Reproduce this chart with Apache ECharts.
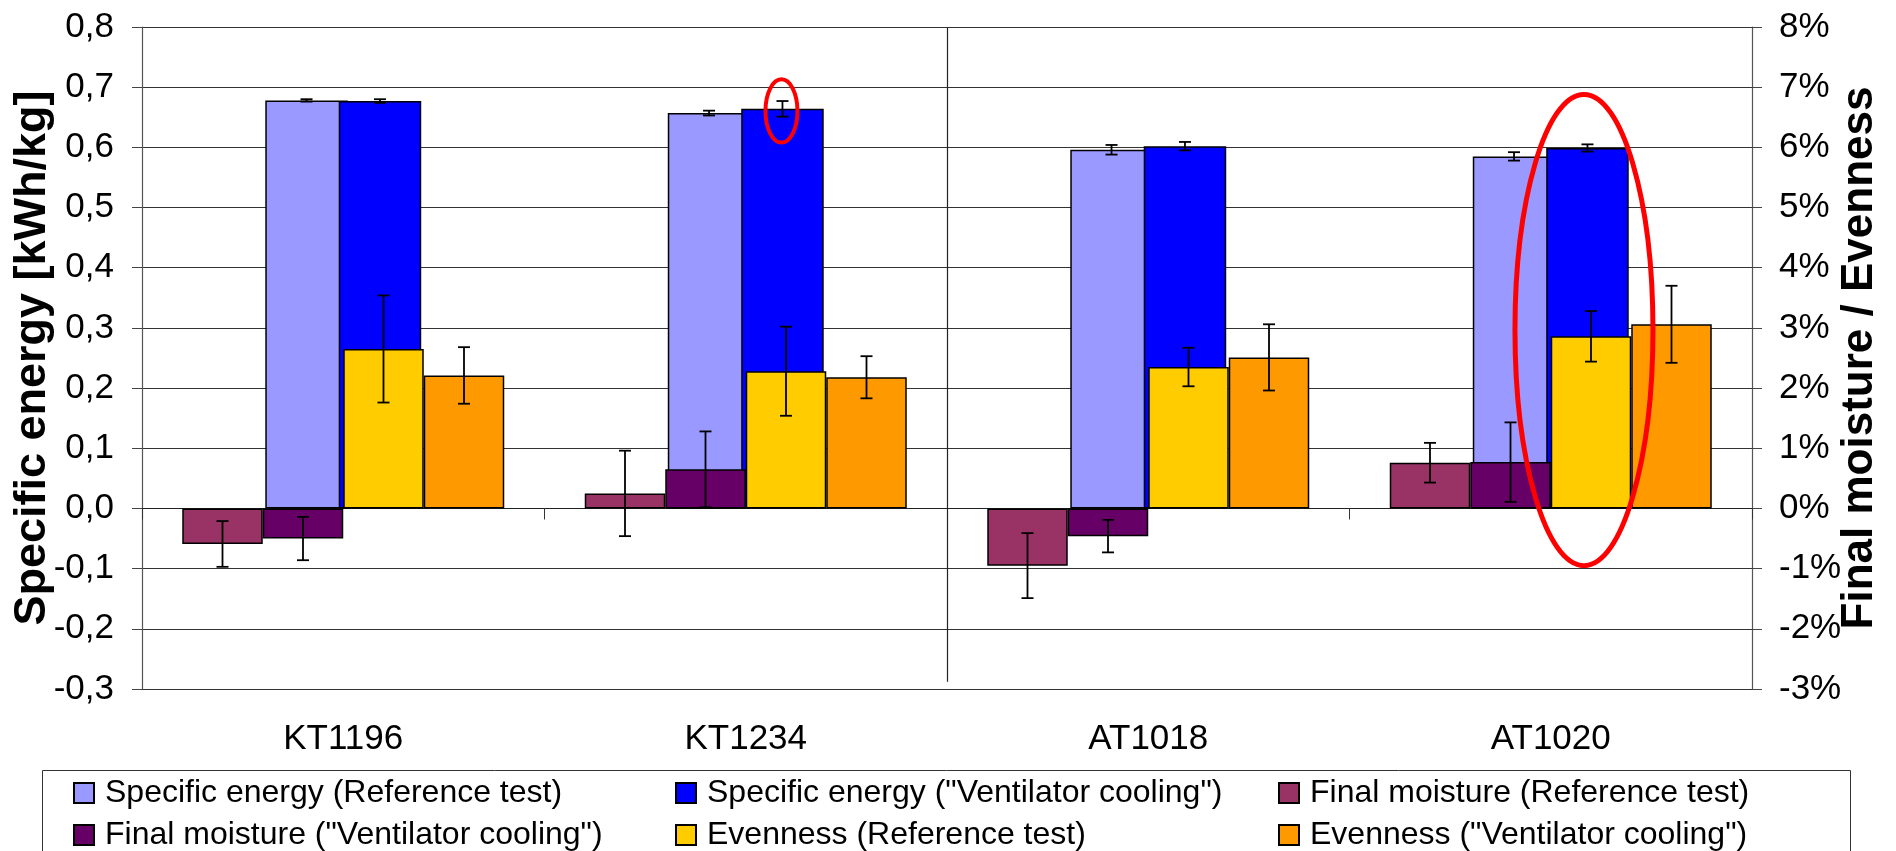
<!DOCTYPE html>
<html>
<head>
<meta charset="utf-8">
<script src="https://cdn.jsdelivr.net/npm/echarts@6/dist/echarts.min.js"></script>
<style>
html,body{margin:0;padding:0;background:#fff;}
#chart{width:1896px;height:851px;}
</style>
</head>
<body>
<div id="chart"></div>
<script>
// ---------- data ----------
const categories = ['KT1196', 'KT1234', 'AT1018', 'AT1020'];

const energyRef      = [0.678, 0.657, 0.596, 0.585];
const energyRefErr   = [0.002, 0.004, 0.008, 0.007];
const energyVent     = [0.677, 0.664, 0.602, 0.599];
const energyVentErr  = [0.003, 0.013, 0.007, 0.006];

const moistRef       = [-0.59, 0.25, -0.95, 0.76];
const moistRefErr    = [0.38, 0.71, 0.54, 0.33];
const moistVent      = [-0.50, 0.65, -0.46, 0.77];
const moistVentErr   = [0.36, 0.63, 0.27, 0.66];

const evenRef        = [2.65, 2.28, 2.35, 2.86];
const evenRefErr     = [0.89, 0.74, 0.32, 0.42];
const evenVent       = [2.21, 2.18, 2.51, 3.06];
const evenVentErr    = [0.47, 0.35, 0.55, 0.64];

const leftTicks = { min: -0.3, max: 0.8, interval: 0.1 };
const rightTicks = { min: -3, max: 8, interval: 1 };

// separator between the KT and AT groups (category boundary index, from/to value on left axis)
const separator = { at: 2, from: 0.8, to: -0.288 };

const names = {
  eRef: 'Specific energy (Reference test)',
  eVent: 'Specific energy ("Ventilator cooling")',
  mRef: 'Final moisture (Reference test)',
  mVent: 'Final moisture ("Ventilator cooling")',
  vRef: 'Evenness (Reference test)',
  vVent: 'Evenness ("Ventilator cooling")'
};

const colors = {
  eRef: '#9999FF', eVent: '#0000FF', mRef: '#993366',
  mVent: '#660066', vRef: '#FFCC00', vVent: '#FF9900'
};

// ---------- layout constants ----------
const FONT = "'Liberation Sans', Arial, sans-serif";
const ENERGY_W = 0.205;          // energy bar width as share of category band
const ENERGY_OVERLAP = 0.11;     // overlap as share of energy bar width
const energyOffset = ENERGY_W * (1 - ENERGY_OVERLAP) / 2;
const slot = 0.2;                // width share of the 4 other bars

const chart = echarts.init(document.getElementById('chart'), null, { renderer: 'canvas' });

function barSeries(key, data, xIdx, yIdx, extra) {
  return Object.assign({
    type: 'bar', name: names[key], data: data,
    xAxisIndex: xIdx, yAxisIndex: yIdx,
    itemStyle: { color: colors[key], borderColor: '#000', borderWidth: 1.5 },
    emphasis: { disabled: true }
  }, extra || {});
}

function errSeries(vals, errs, xIdx, yIdx, offset) {
  return {
    type: 'custom', name: 'err', xAxisIndex: xIdx, yAxisIndex: yIdx, z: 10,
    silent: true,
    data: vals.map((v, i) => [i, v, errs[i]]),
    renderItem: function (params, api) {
      const ci = api.value(0), v = api.value(1), e = api.value(2);
      const band = api.size([1, 0])[0];
      const c = api.coord([ci, v]);
      const x = c[0] + offset * band;
      const yt = api.coord([ci, v + e])[1];
      const yb = api.coord([ci, v - e])[1];
      const hw = 6;
      const st = { stroke: '#000', lineWidth: 1.8 };
      return {
        type: 'group',
        children: [
          { type: 'line', shape: { x1: x, y1: yt, x2: x, y2: yb }, style: st },
          { type: 'line', shape: { x1: x - hw, y1: yt, x2: x + hw, y2: yt }, style: st },
          { type: 'line', shape: { x1: x - hw, y1: yb, x2: x + hw, y2: yb }, style: st }
        ]
      };
    }
  };
}

function legendCol(left, items) {
  return {
    orient: 'vertical', left: left, top: 777, padding: 0,
    itemGap: 10, itemWidth: 20, itemHeight: 20, icon: 'rect',
    selectedMode: false,
    data: items,
    textStyle: { fontFamily: FONT, fontSize: 32, color: '#000', padding: [0, 0, 0, 6] }
  };
}

const option = {
  animation: false,
  backgroundColor: '#fff',
  grid: { left: 142, right: 144, top: 27, bottom: 162, containLabel: false, outerBoundsMode: 'none' },
  legend: [
    legendCol(73, [names.eRef, names.mVent]),
    legendCol(675, [names.eVent, names.vRef]),
    legendCol(1278, [names.mRef, names.vVent])
  ],
  xAxis: [
    {
      type: 'category', data: categories, position: 'bottom',
      axisLine: { show: true, onZero: true, onZeroAxisIndex: 0, lineStyle: { color: '#222', width: 1.2 } },
      axisTick: { show: true, length: 11, lineStyle: { color: '#333' } },
      axisLabel: { show: false },
      splitLine: { show: false }
    },
    {
      type: 'category', data: categories, position: 'bottom',
      axisLine: { show: false, onZero: false },
      axisTick: { show: false },
      splitLine: { show: false },
      axisLabel: { show: true, fontFamily: FONT, fontSize: 35, color: '#000', margin: 33 }
    },
    {
      type: 'value', min: 0, max: categories.length, show: false,
      splitLine: { show: false }
    }
  ],
  yAxis: [
    {
      type: 'value', position: 'left',
      min: leftTicks.min, max: leftTicks.max, interval: leftTicks.interval,
      name: 'Specific energy [kWh/kg]', nameLocation: 'middle', nameGap: 87,
      nameMoveOverlap: false,
      nameTextStyle: { fontFamily: FONT, fontSize: 45, fontWeight: 'bold', color: '#000' },
      axisLine: { show: true, lineStyle: { color: '#555', width: 1.2 } },
      axisTick: { show: true, length: 10, lineStyle: { color: '#444' } },
      axisLabel: {
        fontFamily: FONT, fontSize: 35, color: '#000', margin: 28,
        formatter: v => (Math.round(v * 10) / 10).toFixed(1).replace('.', ',')
      },
      splitLine: { show: true, lineStyle: { color: '#333', width: 1.2 } }
    },
    {
      type: 'value', position: 'right',
      min: rightTicks.min, max: rightTicks.max, interval: rightTicks.interval,
      name: 'Final moisture / Evenness', nameLocation: 'middle', nameGap: 86,
      nameMoveOverlap: false,
      nameTextStyle: { fontFamily: FONT, fontSize: 44, fontWeight: 'bold', color: '#000' },
      axisLine: { show: true, lineStyle: { color: '#555', width: 1.2 } },
      axisTick: { show: true, length: 10, lineStyle: { color: '#444' } },
      axisLabel: {
        fontFamily: FONT, fontSize: 35, color: '#000', margin: 27,
        formatter: v => Math.round(v) + '%'
      },
      splitLine: { show: false }
    }
  ],
  series: [
    barSeries('eRef', energyRef, 1, 0, { barWidth: (ENERGY_W * 100) + '%', barGap: (-ENERGY_OVERLAP * 100) + '%', z: 2 }),
    barSeries('eVent', energyVent, 1, 0, { barWidth: (ENERGY_W * 100) + '%', barGap: (-ENERGY_OVERLAP * 100) + '%', z: 2 }),
    barSeries('mRef', moistRef, 0, 1, { barCategoryGap: '20%', barGap: 0, z: 3 }),
    barSeries('mVent', moistVent, 0, 1, { barCategoryGap: '20%', barGap: 0, z: 3 }),
    barSeries('vRef', evenRef, 0, 1, { barCategoryGap: '20%', barGap: 0, z: 3 }),
    barSeries('vVent', evenVent, 0, 1, { barCategoryGap: '20%', barGap: 0, z: 3 }),
    errSeries(energyRef, energyRefErr, 1, 0, -energyOffset),
    errSeries(energyVent, energyVentErr, 1, 0, energyOffset),
    errSeries(moistRef, moistRefErr, 0, 1, -1.5 * slot),
    errSeries(moistVent, moistVentErr, 0, 1, -0.5 * slot),
    errSeries(evenRef, evenRefErr, 0, 1, 0.5 * slot),
    errSeries(evenVent, evenVentErr, 0, 1, 1.5 * slot),
    {
      type: 'line', name: 'separator', xAxisIndex: 2, yAxisIndex: 0, data: [],
      silent: true, z: 1,
      markLine: {
        silent: true, symbol: 'none', animation: false,
        label: { show: false },
        lineStyle: { color: '#222', type: 'solid', width: 1.2 },
        data: [[{ coord: [separator.at, separator.from] }, { coord: [separator.at, separator.to] }]]
      }
    }
  ]
};

chart.setOption(option);

// ---------- annotations (red ellipses anchored on data) ----------
const annotations = [
  { cat: 'KT1234', top: 0.713, bottom: 0.608, rx: 16, dx: -1, lw: 4 },
  { cat: 'AT1020', top: 0.688, bottom: -0.095, rx: 69, dx: -3.5, lw: 5 }
];

function drawAnnotations() {
  const p0 = chart.convertToPixel({ xAxisIndex: 1, yAxisIndex: 0 }, [categories[0], 0]);
  const p1 = chart.convertToPixel({ xAxisIndex: 1, yAxisIndex: 0 }, [categories[1], 0]);
  const band = p1[0] - p0[0];
  const els = annotations.map(a => {
    const pt = chart.convertToPixel({ xAxisIndex: 1, yAxisIndex: 0 }, [a.cat, a.top]);
    const pb = chart.convertToPixel({ xAxisIndex: 1, yAxisIndex: 0 }, [a.cat, a.bottom]);
    const cx = pt[0] + energyOffset * band + a.dx;
    return {
      type: 'ellipse', z: 100, silent: true,
      shape: { cx: cx, cy: (pt[1] + pb[1]) / 2, rx: a.rx, ry: Math.abs(pb[1] - pt[1]) / 2 },
      style: { fill: 'none', stroke: '#FF0000', lineWidth: a.lw }
    };
  });
  els.push({
    type: 'rect', z: 0, silent: true,
    shape: { x: 42.5, y: 770.5, width: 1808, height: 120 },
    style: { fill: 'none', stroke: '#333', lineWidth: 1 }
  });
  chart.setOption({ graphic: els });
}
drawAnnotations();
</script>
</body>
</html>
